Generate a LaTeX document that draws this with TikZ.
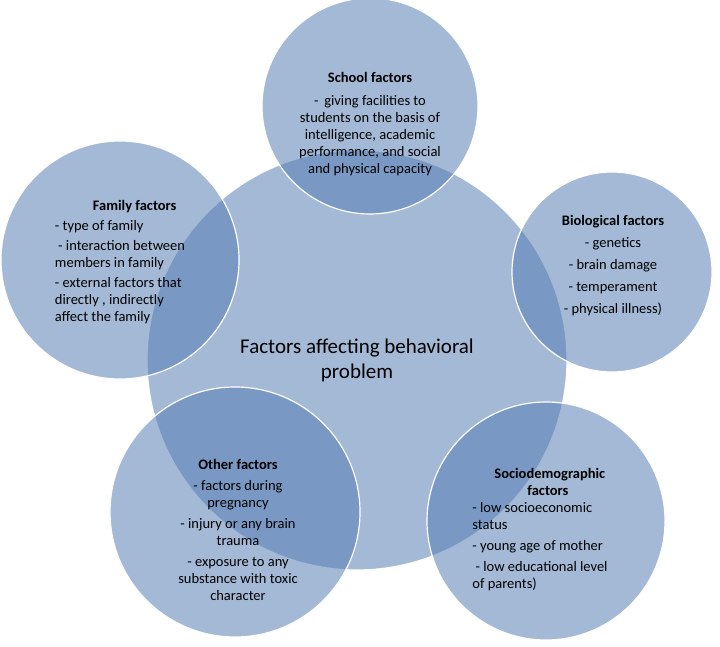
\documentclass[tikz,border=0pt]{standalone}
\usepackage{fontspec}
\setmainfont{Carlito}
\definecolor{circblue}{RGB}{88,128,182}
\tikzset{
  factor/.style={circle,fill=circblue,fill opacity=0.55,draw=white,line width=1.2pt,inner sep=0pt},
  txt/.style={align=center,font=\fontsize{14.5}{17}\selectfont,text=black}
}
\begin{document}
\begin{tikzpicture}[x=1pt,y=-1pt]
  \useasboundingbox (0,0) rectangle (720,647);
  \fill[white] (0,0) rectangle (720,647);
  % circles
  \node[factor,minimum size=420] (core) at (357,360) {};
  \node[factor,minimum size=216] (school) at (370,106) {};
  \node[factor,minimum size=200] (bio) at (612,272) {};
  \node[factor,minimum size=238] (family) at (120,260) {};
  \node[factor,minimum size=250] (other) at (235,512) {};
  \node[factor,minimum size=238] (socio) at (546,521) {};
  % texts
  \node[txt,font=\fontsize{21}{25}\selectfont] (coretext) at (357,360) {Factors affecting behavioral\\problem};
  \node[txt] (schooltext) at (370,124) {{\bfseries School factors}\\[6pt] -\, giving facilities to\\students on the basis of\\intelligence, academic\\performance, and social\\and physical capacity};
  \node[txt] (biotext) at (613,266) {{\bfseries Biological factors}\\[5pt] - genetics\\[5pt] - brain damage\\[5pt] - temperament\\[5pt] - physical illness)};
  \node[txt,align=left] (familytext) at (120,262) {\hspace*{38pt}{\bfseries Family factors}\\[3pt] - type of family\\[3pt] \ - interaction between\\members in family\\[3pt] - external factors that\\directly , indirectly\\affect the family};
  \node[txt] (othertext) at (238,530) {{\bfseries Other factors}\\[4pt] - factors during\\pregnancy\\[4pt] - injury or any brain\\trauma\\[4pt] - exposure to any\\substance with toxic\\character};
  \node[txt,align=left] (sociotext) at (540,530) {\hspace*{22pt}{\bfseries Sociodemographic}\\\hspace*{55pt}{\bfseries factors}\\ - low socioeconomic\\status\\[4pt] - young age of mother\\[4pt] \ - low educational level\\of parents)};
\end{tikzpicture}
\end{document}
